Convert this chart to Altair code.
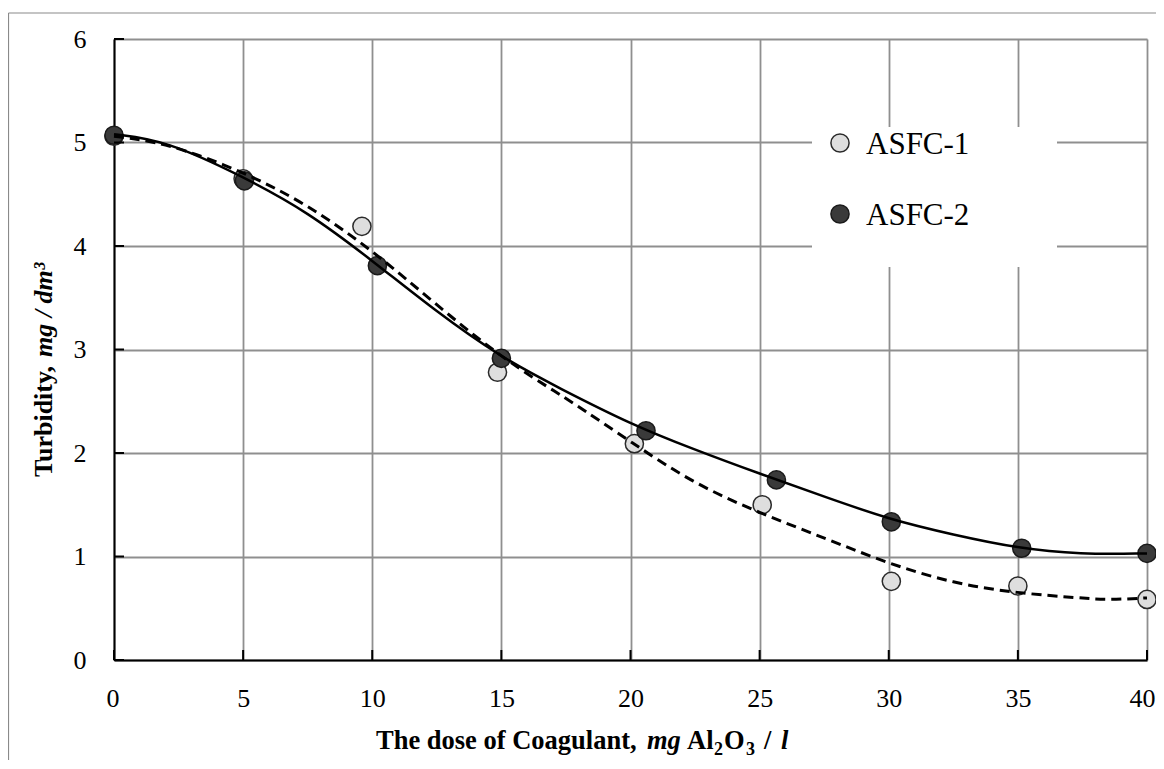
import altair as alt
import pandas as pd

# ---------------- data ----------------
series = ["ASFC-1", "ASFC-2"]

dose1 = [0, 5, 9.6, 14.85, 20.15, 25.1, 30.1, 35.0, 40.0]
turb1 = [5.06, 4.65, 4.19, 2.78, 2.09, 1.50, 0.76, 0.715, 0.585]

dose2 = [0, 5.05, 10.2, 15.0, 20.6, 25.65, 30.1, 35.15, 40.0]
turb2 = [5.07, 4.63, 3.81, 2.915, 2.215, 1.74, 1.335, 1.08, 1.03]

# dashed fitted curve (ASFC-1)
fit1_x = [0, 2, 5, 7.5, 10, 12.4, 15, 17.3, 18.1, 20, 22.4, 25, 27.6, 30, 32.5, 35, 37.4, 38.5, 40]
fit1_y = [5.06, 5.0, 4.72, 4.40, 3.96, 3.45, 2.92, 2.56, 2.43, 2.11, 1.71, 1.42, 1.17, 0.93, 0.74, 0.645, 0.60, 0.58, 0.60]

# solid fitted curve (ASFC-2)
fit2_x = [0, 2, 5, 7.5, 10, 12.4, 15, 17.3, 20, 22.4, 25, 27.6, 30, 32.5, 35, 37.4, 40]
fit2_y = [5.08, 5.02, 4.67, 4.33, 3.86, 3.38, 2.92, 2.62, 2.28, 2.04, 1.80, 1.57, 1.36, 1.21, 1.08, 1.02, 1.03]

x_ticks = [0, 5, 10, 15, 20, 25, 30, 35, 40]
y_ticks = [0, 1, 2, 3, 4, 5, 6]

# x title pieces: (text, italic, subscript)
x_title_parts = [("The dose of Coagulant,", False, False), ("mg", True, False), ("Al", False, False),
                 ("2", False, True), ("O", False, False), ("3", False, True), ("/", False, False),
                 ("l", True, False)]
x_title_pos = [262, 533, 573, 600, 610, 632, 650, 667]
y_title_parts = ["Turbidity,", "mg / dm\u00b3"]

# ---------------- styling ----------------
W, H = 1033, 621
FONT = "Liberation Serif"
LIGHT_FILL, DARK_FILL = "#dedede", "#3a3a3a"
GRID = "#8f8f8f"

df1 = pd.DataFrame({"dose": dose1, "turb": turb1})
df2 = pd.DataFrame({"dose": dose2, "turb": turb2})
f1 = pd.DataFrame({"dose": fit1_x, "turb": fit1_y})
f2 = pd.DataFrame({"dose": fit2_x, "turb": fit2_y})
one = pd.DataFrame({"a": [0]})

xscale = alt.Scale(domain=[0, 40], nice=False, zero=False)
yscale = alt.Scale(domain=[0, 6], nice=False)

x_axis = alt.Axis(values=x_ticks, title=None, grid=True, gridColor=GRID, gridWidth=1.8,
                  domainColor="black", domainWidth=2, ticks=False, labelFont=FONT, format="d",
                  labelFontSize=26, labelPadding=25, labelColor="black",
                  labelFlush=True, labelFlushOffset=8)
y_axis = alt.Axis(values=y_ticks, title=None, grid=True, gridColor=GRID, gridWidth=1.8,
                  domainColor="black", domainWidth=2, ticks=False, labelFont=FONT, format="d",
                  labelFontSize=26, labelPadding=28, labelColor="black", labelFlush=False)

X = alt.X("dose:Q", scale=xscale, axis=x_axis)
Y = alt.Y("turb:Q", scale=yscale, axis=y_axis)
Xp = alt.X("dose:Q", scale=xscale)
Yp = alt.Y("turb:Q", scale=yscale)

pts1 = alt.Chart(df1).mark_circle(size=330, fill=LIGHT_FILL, stroke="#2a2a2a", strokeWidth=1.5, opacity=1).encode(x=X, y=Y)
pts2 = alt.Chart(df2).mark_circle(size=330, fill=DARK_FILL, stroke="#1a1a1a", strokeWidth=1.5, opacity=1).encode(x=Xp, y=Yp)

line_solid = alt.Chart(f2).mark_line(color="black", strokeWidth=2.5, interpolate="basis").encode(x=Xp, y=Yp)
line_dash = alt.Chart(f1).mark_line(color="black", strokeWidth=3, strokeDash=[10, 6], interpolate="basis").encode(x=Xp, y=Yp)

xt = pd.DataFrame({"dose": x_ticks})
yt = pd.DataFrame({"turb": y_ticks})
xticks = alt.Chart(xt).mark_rule(color="black", strokeWidth=2).encode(x=Xp, y=alt.value(H), y2=alt.value(H - 10))
yticks = alt.Chart(yt).mark_rule(color="black", strokeWidth=2).encode(y=Yp, x=alt.value(0), x2=alt.value(10))

# legend box
leg_box = alt.Chart(one).mark_rect(fill="white").encode(
    x=alt.value(698), x2=alt.value(943), y=alt.value(88), y2=alt.value(228))
leg_pt1 = alt.Chart(one).mark_circle(size=330, fill=LIGHT_FILL, stroke="#2a2a2a", strokeWidth=1.5, opacity=1).encode(
    x=alt.value(726), y=alt.value(104))
leg_pt2 = alt.Chart(one).mark_circle(size=330, fill=DARK_FILL, stroke="#1a1a1a", strokeWidth=1.5, opacity=1).encode(
    x=alt.value(726), y=alt.value(175))
leg_t1 = alt.Chart(one).mark_text(font=FONT, fontSize=31, align="left", baseline="middle", color="black",
                                  text=series[0]).encode(x=alt.value(752), y=alt.value(106))
leg_t2 = alt.Chart(one).mark_text(font=FONT, fontSize=31, align="left", baseline="middle", color="black",
                                  text=series[1]).encode(x=alt.value(752), y=alt.value(177))

# axis titles (mixed bold / bold-italic / subscript)
def xt_part(txt, xpos, italic=False, sub=False):
    return alt.Chart(one).mark_text(font=FONT, fontSize=18 if sub else 26.5, fontWeight="bold",
                                    fontStyle="italic" if italic else "normal",
                                    align="left", baseline="alphabetic", color="black",
                                    text=txt).encode(x=alt.value(xpos), y=alt.value(716 if sub else 710))

xtitle = [xt_part(t, p, it, sb) for (t, it, sb), p in zip(x_title_parts, x_title_pos)]

def yt_part(txt, ypos, italic=False):
    return alt.Chart(one).mark_text(font=FONT, fontSize=26, fontWeight="bold",
                                    fontStyle="italic" if italic else "normal",
                                    align="left", baseline="alphabetic", color="black", angle=270,
                                    text=txt).encode(x=alt.value(-62), y=alt.value(ypos))

ytitle = [yt_part(y_title_parts[0], 438), yt_part(y_title_parts[1], 318, True)]

# outer frame (gray)
frame_left = alt.Chart(one).mark_rule(color="#8a8a8a", strokeWidth=1.2).encode(
    x=alt.value(-105.5), y=alt.value(-26), y2=alt.value(H + 140))
frame_top = alt.Chart(one).mark_rule(color="#8a8a8a", strokeWidth=1.2).encode(
    x=alt.value(-105.5), x2=alt.value(W + 60), y=alt.value(-26))

chart = alt.layer(
    pts1, pts2, line_dash, line_solid, xticks, yticks,
    leg_box, leg_pt1, leg_pt2, leg_t1, leg_t2,
    *xtitle, *ytitle, frame_left, frame_top
).properties(
    width=W, height=H,
    autosize=alt.AutoSizeParams(type="none"),
    padding={"left": 106, "top": 31, "right": 9, "bottom": 100},
).configure_view(stroke=None).configure(background="white")

chart.save("out.html", embed_options={"renderer": "svg", "actions": False})
